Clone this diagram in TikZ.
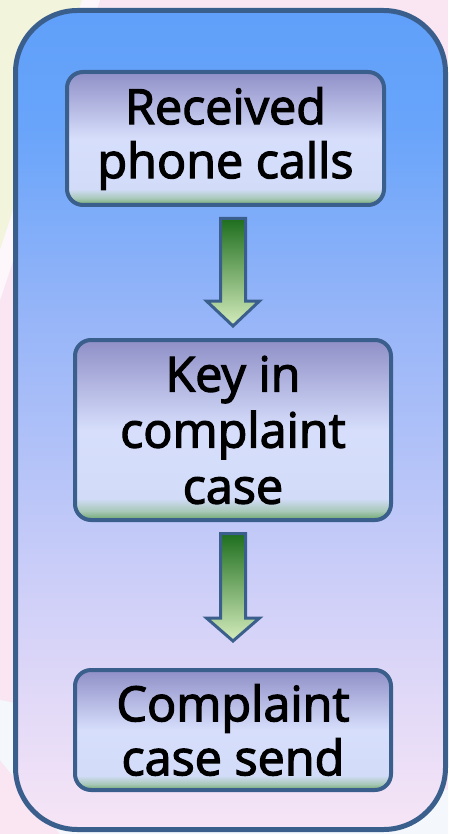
\documentclass[tikz,border=0pt]{standalone}
\usepackage{fontspec}
\setmainfont{Open Sans}[FakeBold=2.6]
\usetikzlibrary{calc}
\definecolor{bgpink}{HTML}{F9E6F2}
\definecolor{bgyellow}{HTML}{F2F5DC}
\definecolor{bgwhite}{HTML}{F4F8FC}
\definecolor{edgeblue}{HTML}{3B5F8C}
\definecolor{oTop}{HTML}{60A0FA}
\definecolor{oHigh}{HTML}{68A4FA}
\definecolor{oMid}{HTML}{94B4F8}
\definecolor{oLow}{HTML}{D0D0F8}
\definecolor{oBot}{HTML}{F7E5F6}
\definecolor{bTop}{HTML}{8F8FC7}
\definecolor{bMid}{HTML}{D6DEFB}
\definecolor{bLow}{HTML}{D2DCF8}
\definecolor{bGreenA}{HTML}{A8C8B8}
\definecolor{bGreen}{HTML}{6CA66C}
\definecolor{aTop}{HTML}{1E6E1E}
\definecolor{aBot}{HTML}{D4ECBC}
\pgfdeclareverticalshading{outershade}{100bp}{color(0bp)=(oBot); color(25bp)=(oBot); color(39bp)=(oLow); color(57bp)=(oMid); color(68bp)=(oHigh); color(75bp)=(oTop); color(100bp)=(oTop)}
\pgfdeclareverticalshading{boxshade}{100bp}{color(0bp)=(bGreen); color(25bp)=(bGreen); color(27.5bp)=(bGreenA); color(31bp)=(bLow); color(50bp)=(bMid); color(75bp)=(bTop); color(100bp)=(bTop)}
\tikzset{
  stepbox/.style={draw=edgeblue, line width=4pt, rounded corners=16pt, shading=boxshade,
    inner sep=0pt, align=center, text=black},
  bigtext/.style={font=\fontsize{48.5}{54}\selectfont},
  midtext/.style={font=\fontsize{48.5}{56}\selectfont},
  blockarrow/.style={draw=edgeblue, line width=3pt, line join=miter, top color=aTop, bottom color=aBot},
  frame/.style={draw=edgeblue, line width=5pt, rounded corners=62pt, shading=outershade}
}
\begin{document}
\begin{tikzpicture}[x=1pt,y=-1pt]
\useasboundingbox (0,0) rectangle (448,834);
% background
\fill[bgpink] (0,0) rectangle (448,834);
\fill[bgyellow] (0,0) -- (82,0) -- (0,250) -- cycle;
\fill[white, opacity=0.7] (82,0) -- (100,0) -- (0,300) -- (0,250) -- cycle;
\fill[bgwhite] (0,760) -- (60,834) -- (448,834) -- (448,790) -- (0,700) -- cycle;
% outer frame
\path[frame] (15.5,10.5) rectangle (445.5,829.5);
% boxes
\node[stepbox, bigtext, minimum width=317pt, minimum height=133pt] (b1) at (225.5,138.5) {Received\\phone calls};
\node[stepbox, midtext, minimum width=316pt, minimum height=180pt] (b2) at (233,430) {Key in\\complaint\\case};
\node[stepbox, bigtext, minimum width=316pt, minimum height=120pt] (b3) at (233,730) {Complaint\\case send};
% arrows
\path let \p1=(b1.south), \p2=(b2.north) in
  [blockarrow] (\x2-12.5pt,\y1-11.5pt) -- (\x2+12.5pt,\y1-11.5pt) -- (\x2+12.5pt,\y1-94pt)
  -- (\x2+26.5pt,\y1-94pt) -- (\x2,\y1-119pt) -- (\x2-26.5pt,\y1-94pt) -- (\x2-12.5pt,\y1-94pt) -- cycle;
\path let \p1=(b2.south), \p2=(b3.north) in
  [blockarrow] (\x2-12.5pt,\y1-11.5pt) -- (\x2+12.5pt,\y1-11.5pt) -- (\x2+12.5pt,\y1-96pt)
  -- (\x2+26.5pt,\y1-96pt) -- (\x2,\y1-119pt) -- (\x2-26.5pt,\y1-96pt) -- (\x2-12.5pt,\y1-96pt) -- cycle;
\end{tikzpicture}
\end{document}
